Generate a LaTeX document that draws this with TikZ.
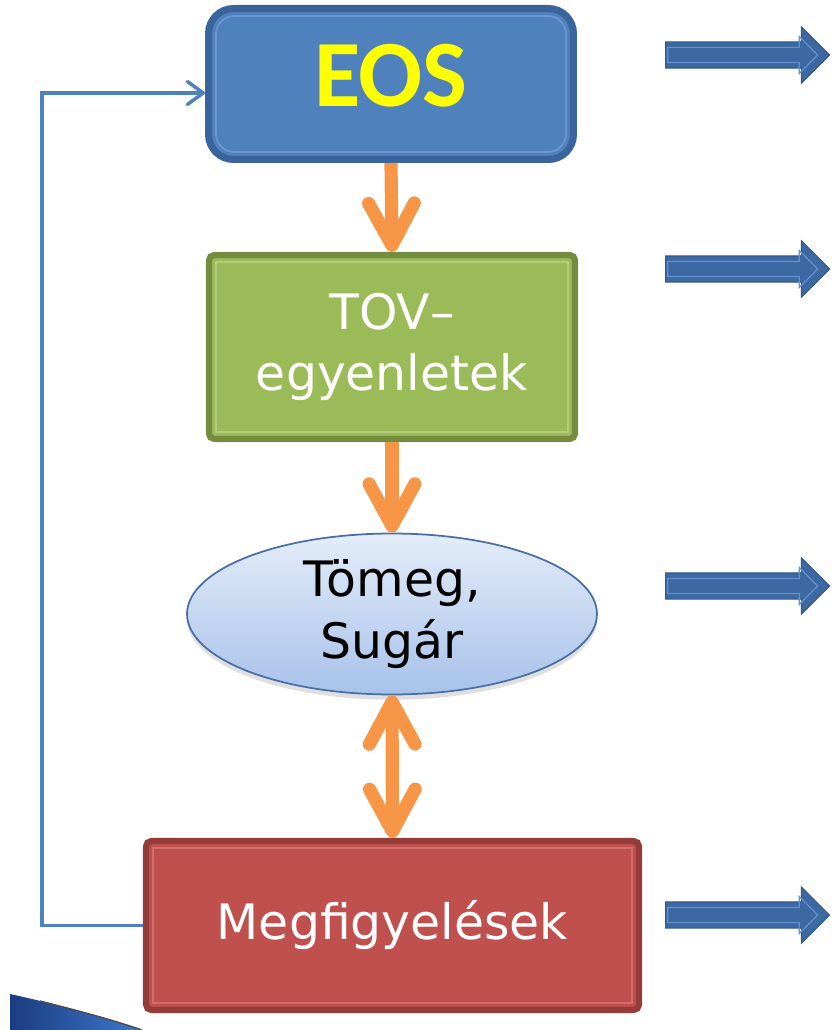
\documentclass[tikz,border=0pt]{standalone}
\usepackage{fontspec}
\setmainfont{DejaVu Sans}
\newfontfamily\eosfont{Carlito}
\usetikzlibrary{arrows.meta,shapes.geometric,shapes.arrows,shadows}

\definecolor{eosblue}{HTML}{4F81BD}
\definecolor{eosedge}{HTML}{3A659C}
\definecolor{eoshi}{HTML}{6A97D0}
\definecolor{eosyellow}{HTML}{FFFF00}
\definecolor{tovgreen}{HTML}{9BBB59}
\definecolor{tovedge}{HTML}{738C40}
\definecolor{tovhi}{HTML}{B2CC7C}
\definecolor{obsred}{HTML}{C0504D}
\definecolor{obsedge}{HTML}{943C39}
\definecolor{obshi}{HTML}{D06E6B}
\definecolor{massedge}{HTML}{4A6FA5}
\definecolor{masstop}{HTML}{E4ECF8}
\definecolor{massbot}{HTML}{A7C2EA}
\definecolor{floworange}{HTML}{F79646}
\definecolor{fbblue}{HTML}{4F81BD}
\definecolor{outblue}{HTML}{3D69A3}
\definecolor{outedge}{HTML}{34598C}
\definecolor{outhi}{HTML}{6391CF}
\definecolor{swooshdark}{HTML}{1B3C82}
\definecolor{swooshlight}{HTML}{3E78CC}

\tikzset{
  label font/.style={font=\fontsize{27.8}{35}\selectfont, align=center},
  box/.style={rectangle, rounded corners=3pt, line width=3.5pt, inner sep=0pt,
    text=white, label font},
  eosbox/.style={rectangle, rounded corners=0.5cm, fill=eosblue, draw=eosedge,
    line width=4pt, minimum width=7.3cm, minimum height=3.02cm, inner sep=0pt,
    text=eosyellow, font=\eosfont\bfseries\fontsize{54}{60}\selectfont,
    text depth=0.36cm},
  tovbox/.style={box, fill=tovgreen, draw=tovedge, minimum width=7.32cm, minimum height=3.68cm},
  obsbox/.style={box, fill=obsred, draw=obsedge, minimum width=9.86cm, minimum height=3.38cm},
  massbox/.style={ellipse, top color=masstop, bottom color=massbot, draw=massedge,
    line width=1pt, minimum width=8.2cm, minimum height=3.22cm, inner sep=0pt,
    label font, text=black,
    drop shadow={shadow xshift=0pt, shadow yshift=-3pt, opacity=0.25}},
  inner line/.style={line width=1pt},
  flow/.style={draw=floworange, line width=7.5pt},
  feedback/.style={draw=fbblue, line width=2pt,
    -{Straight Barb[length=9pt,width=13pt,round]}},
  outarrow/.style={single arrow, single arrow head extend=0.3cm,
    inner xsep=0pt, inner ysep=0.25cm, minimum height=3.28cm,
    fill=outblue, draw=outedge, line width=0.6pt},
  outarrowhi/.style={single arrow, single arrow head extend=0.22cm,
    inner xsep=0pt, inner ysep=0.14cm, minimum height=3.0cm,
    draw=outhi, line width=0.7pt}
}

\begin{document}
\begin{tikzpicture}[x=0.02cm, y=-0.02cm,
    >={Straight Barb[length=24pt,width=26pt,round]}]
	%%%%% START %%%%%
	\fill[white] (0,0) rectangle (833,1030);
	\useasboundingbox (0,0) rectangle (833,1030);

	% swoosh in the lower left corner
	\shade[left color=swooshdark, right color=swooshlight]
		(10,1030) -- (10,994) .. controls (60,1005) and (105,1017) .. (142,1030) -- cycle;
	\draw[black!70, line width=0.8pt] (40,1001) .. controls (75,1010) and (110,1019) .. (142,1030);

	% the chain
	\node[eosbox] (eos) at (391,84) {EOS};
	\draw[eoshi, inner line, rounded corners=0.36cm]
		([xshift=0.22cm,yshift=-0.22cm]eos.north west) rectangle ([xshift=-0.22cm,yshift=0.22cm]eos.south east);

	\node[tovbox] (tov) at (392,347) {TOV–\\egyenletek};
	\draw[tovhi, inner line]
		([xshift=0.2cm,yshift=-0.2cm]tov.north west) rectangle ([xshift=-0.2cm,yshift=0.2cm]tov.south east);

	\node[massbox] (mass) at (392,614) {Tömeg,\\Sugár};

	\node[obsbox] (obs) at (392.5,925.5) {Megfigyelések};
	\draw[obshi, inner line]
		([xshift=0.2cm,yshift=-0.2cm]obs.north west) rectangle ([xshift=-0.2cm,yshift=0.2cm]obs.south east);

	\draw[flow,->] (eos.south) -- (tov.north);
	\draw[flow,->] (tov.south) -- (mass.north);
	\draw[flow,<->] (mass.south) -- (obs.north);

	% back to the EOS
	\draw[feedback] (obs.west) -- ++(-101,0) |- ([yshift=-0.18cm]eos.west);

	% arrows on the right
	\foreach \y [count=\i] in {55,269,586,915} {
		\node[outarrow] (out\i) at (741,\y) {};
		\node[outarrowhi] (outhi\i) at (739,\y) {};
	}
	%%%%% END %%%%%
\end{tikzpicture}
\end{document}
